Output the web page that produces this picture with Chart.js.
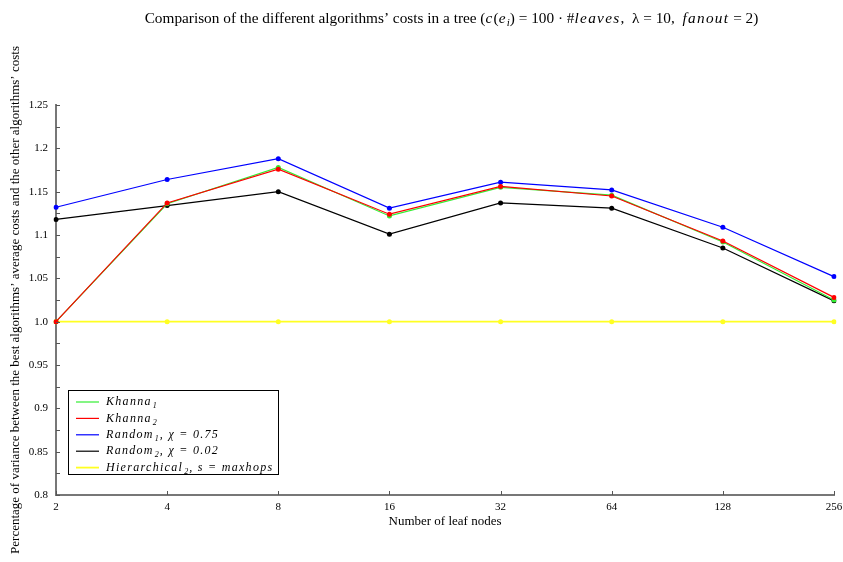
<!DOCTYPE html>
<html>
<head>
<meta charset="utf-8">
<script src="https://cdn.jsdelivr.net/npm/chart.js@4/dist/chart.umd.min.js"></script>
<style>
  html, body { margin: 0; padding: 0; background: #fff; }
  #wrap { width: 843px; height: 562px; }
</style>
</head>
<body>
<div id="wrap"><canvas id="costChart"></canvas></div>
<script>
// leaf node counts on the x axis
const leafNodes = ['2', '4', '8', '16', '32', '64', '128', '256'];

// series values
const khanna1 = [1.0, 1.136, 1.178, 1.122, 1.155, 1.146, 1.092, 1.025];
const khanna2 = [1.0, 1.137, 1.176, 1.124, 1.156, 1.145, 1.093, 1.028];
const random1 = [1.132, 1.164, 1.188, 1.131, 1.161, 1.152, 1.109, 1.052];
const random2 = [1.118, 1.134, 1.150, 1.101, 1.137, 1.131, 1.085, 1.024];
const hierarchical2 = [1.0, 1.0, 1.0, 1.0, 1.0, 1.0, 1.0, 1.0];

// y tick labels
const yTickValues = [0.8, 0.85, 0.9, 0.95, 1.0, 1.05, 1.1, 1.15, 1.2, 1.25];
const yTickLabels = ['0.8', '0.85', '0.9', '0.95', '1.0', '1.05', '1.1', '1.15', '1.2', '1.25'];

// legend text: base name, subscript, rest
const legendBase = ['Khanna', 'Khanna', 'Random', 'Random', 'Hierarchical'];
const legendSub = ['1', '2', '1', '2', '2'];
const legendRest = ['', '', ', χ = 0.75', ', χ = 0.02', ', s = maxhops'];

// title pieces: [text, style] where style is n(ormal), i(talic) or s(ubscript)
const titleParts = [
  ['Comparison of the different algorithms’ costs in a tree (', 'n'],
  ['c', 'i'], ['(', 'n'], ['e', 'i'], ['i', 's'], [') = 100 · #', 'n'],
  ['leaves', 'i'], [',  λ = 10,  ', 'n'], ['fanout', 'i'], [' = 2)', 'n']
];

const serif = '"Liberation Serif", "DejaVu Serif", serif';
const seriesColors = ['#33ee33', '#ff0000', '#0000ff', '#000000', '#ffff22'];
const seriesWidths = [1.2, 1.2, 1.2, 1.2, 1.8];
const seriesData = [khanna1, khanna2, random1, random2, hierarchical2];
const drawOrder = [2, 1, 3, 4, 5];

function setFont(ctx, style, size) {
  if (style === 'i') { ctx.font = 'italic ' + size + 'px ' + serif; ctx.letterSpacing = '1.3px'; }
  else if (style === 's') { ctx.font = 'italic ' + Math.round(size * 0.7) + 'px ' + serif; ctx.letterSpacing = '0px'; }
  else { ctx.font = size + 'px ' + serif; ctx.letterSpacing = '0px'; }
}

// title with math-style italic pieces
const mathTitle = {
  id: 'mathTitle',
  afterDraw(chart) {
    const { ctx } = chart;
    const size = 15.3, cy = 19;
    ctx.save();
    ctx.textBaseline = 'middle';
    let total = 0;
    titleParts.forEach(([t, s]) => { setFont(ctx, s, size); total += ctx.measureText(t).width; });
    let tx = 451.5 - total / 2;
    ctx.fillStyle = '#000';
    titleParts.forEach(([t, s]) => {
      setFont(ctx, s, size);
      ctx.fillText(t, tx, s === 's' ? cy + 4 : cy);
      tx += ctx.measureText(t).width;
    });
    ctx.restore();
  }
};

// inward ticks like the original gnuplot-style axes
const innerTicks = {
  id: 'innerTicks',
  afterDraw(chart) {
    const { ctx, chartArea: a, scales: { x, y } } = chart;
    ctx.save();
    ctx.strokeStyle = '#555';
    ctx.lineWidth = 1;
    ctx.beginPath();
    for (let v = 0.8; v <= 1.2501; v += 0.025) {
      const py = Math.round(y.getPixelForValue(v)) + 0.5;
      ctx.moveTo(a.left, py);
      ctx.lineTo(a.left + 4, py);
    }
    leafNodes.forEach((_, i) => {
      const px = Math.round(x.getPixelForValue(i)) + 0.5;
      ctx.moveTo(px, a.bottom);
      ctx.lineTo(px, a.bottom - 4);
    });
    ctx.stroke();
    ctx.restore();
  }
};

// boxed legend with subscripts
const boxLegend = {
  id: 'boxLegend',
  afterDraw(chart) {
    const { ctx, chartArea: a } = chart;
    const left = a.left + 12, top = a.bottom - 105, w = 210, h = 84;
    ctx.save();
    ctx.fillStyle = '#fff';
    ctx.fillRect(left, top, w, h);
    ctx.strokeStyle = '#000';
    ctx.lineWidth = 1;
    ctx.strokeRect(left + 0.5, top + 0.5, w, h);
    ctx.textBaseline = 'middle';
    legendBase.forEach((base, i) => {
      const cy = top + 12 + i * 16.4;
      ctx.strokeStyle = seriesColors[i];
      ctx.lineWidth = seriesWidths[i];
      ctx.beginPath();
      ctx.moveTo(left + 8, cy);
      ctx.lineTo(left + 31, cy);
      ctx.stroke();
      let tx = left + 38;
      ctx.fillStyle = '#000';
      setFont(ctx, 'i', 12);
      ctx.fillText(base, tx, cy);
      tx += ctx.measureText(base).width + 1;
      setFont(ctx, 's', 12);
      ctx.fillText(legendSub[i], tx, cy + 4);
      tx += ctx.measureText(legendSub[i]).width + 1;
      setFont(ctx, 'i', 12);
      ctx.fillText(legendRest[i], tx, cy);
    });
    ctx.restore();
  }
};

new Chart(document.getElementById('costChart'), {
  type: 'line',
  data: {
    labels: leafNodes,
    datasets: seriesData.map((d, i) => ({
      label: legendBase[i] + legendSub[i] + legendRest[i],
      data: d,
      borderColor: seriesColors[i],
      backgroundColor: seriesColors[i],
      borderWidth: seriesWidths[i],
      pointRadius: 2.5,
      pointHoverRadius: 2.5,
      pointBorderWidth: 0,
      tension: 0,
      order: drawOrder[i]
    }))
  },
  options: {
    responsive: true,
    maintainAspectRatio: false,
    animation: false,
    layout: { padding: { top: 105, right: 9, bottom: 0, left: 0 } },
    plugins: {
      legend: { display: false },
      tooltip: { enabled: false },
      title: { display: false }
    },
    scales: {
      x: {
        type: 'category',
        offset: false,
        grid: { display: true, drawOnChartArea: false, drawTicks: false },
        border: { display: true, color: '#777', width: 2 },
        ticks: { color: '#000', padding: 6, font: { family: serif, size: 11 }, autoSkip: false, maxRotation: 0 },
        title: {
          display: true,
          text: 'Number of leaf nodes',
          color: '#000',
          font: { family: serif, size: 13 },
          padding: { top: 33, bottom: 33 }
        },
        afterFit(scale) {
          scale.height = 67;
          scale.paddingLeft = 0;
          scale.paddingRight = 0;
        }
      },
      y: {
        min: 0.8,
        max: 1.25,
        afterBuildTicks(scale) {
          scale.ticks = yTickValues.map(v => ({ value: v }));
        },
        grid: { display: true, drawOnChartArea: false, drawTicks: false },
        border: { display: true, color: '#777', width: 2 },
        ticks: {
          color: '#000',
          padding: 8,
          font: { family: serif, size: 11 },
          callback(value) {
            const i = yTickValues.findIndex(v => Math.abs(v - value) < 1e-9);
            return i >= 0 ? yTickLabels[i] : '';
          }
        },
        title: {
          display: true,
          text: 'Percentage of variance between the best algorithms’ average costs and the other algorithms’ costs',
          color: '#000',
          font: { family: serif, size: 13 },
          padding: { top: 8, bottom: 8 }
        },
        afterFit(scale) {
          scale.width = 56;
          scale.paddingTop = 0;
          scale.paddingBottom = 0;
        }
      }
    }
  },
  plugins: [innerTicks, boxLegend, mathTitle]
});
</script>
</body>
</html>
